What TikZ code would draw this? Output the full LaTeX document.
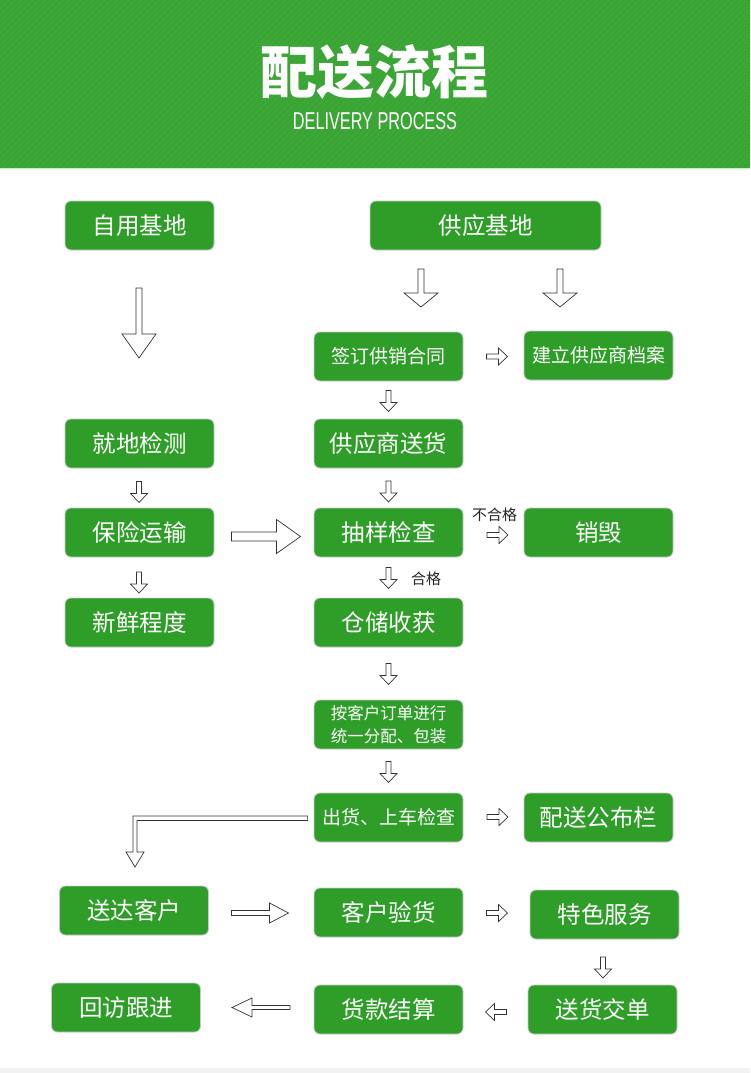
\documentclass[tikz,border=0pt]{standalone}
\usepackage{fontspec}
\setmainfont{Liberation Sans}
\newfontfamily\cjk{Noto Sans CJK SC}
\usetikzlibrary{calc}
\definecolor{hdrgreen}{HTML}{3DA838}
\definecolor{stripegreen}{HTML}{38A333}
\definecolor{boxgreen}{HTML}{2F9E29}
\definecolor{arrline}{HTML}{333333}
\tikzset{
  box/.style={draw=black!22, line width=0.8pt, fill=boxgreen, rounded corners=6pt,
    text=white, minimum width=149pt, minimum height=49pt, inner sep=0pt, align=center,
    font=\cjk\fontsize{23.5}{28}\selectfont},
  midtext/.style={font=\cjk\fontsize{19}{24}\selectfont},
  smalltext/.style={font=\cjk\fontsize{16.5}{23}\selectfont},
  lbl/.style={text=black!85, inner sep=0pt, font=\cjk\fontsize{15}{18}\selectfont},
  arr/.style={draw=arrline, line width=0.7pt, fill=white, line join=miter},
  pics/barr/.style n args={4}{code={
    \draw[arr] (-#1/2,-#2) -- (#1/2-#4,-#2) -- (#1/2-#4,-#3) -- (#1/2,0)
      -- (#1/2-#4,#3) -- (#1/2-#4,#2) -- (-#1/2,#2) -- cycle;}},
  pics/sarr/.style={code={
    \draw[arr] (-10.5,-2.5) -- (1.5,-2.5) -- (1.5,-8.5) -- (10.5,0)
      -- (1.5,8.5) -- (1.5,2.5) -- (-10.5,2.5) -- cycle;}},
}
\begin{document}
\begin{tikzpicture}[x=1pt,y=-1pt]
\useasboundingbox (0,0) rectangle (750,1073);
\fill[white] (0,0) rectangle (750,1073);
% header
\fill[hdrgreen] (0,0) rectangle (750,168);
\begin{scope}
\clip (0,0) rectangle (750,168);
\foreach \i in {-180,-174,...,760} \draw[stripegreen, line width=1.2pt] (\i,168) -- (\i+168,0);
\end{scope}
\draw[green!30!white, line width=1pt] (0,168.5) -- (750,168.5);
\fill[black!5] (0,1068) rectangle (750,1073);
\node[text=white, inner sep=0pt, font=\cjk\bfseries\fontsize{57}{60}\selectfont] (title) at (374,72) {配送流程};
\node[text=white, inner sep=0pt] (subtitle) at (375,121.5) {\resizebox{164pt}{17pt}{DELIVERY PROCESS}};

% boxes
\node[box] (zy) at (139.5,225.5) {自用基地};
\node[box, minimum width=231pt] (gy) at (485.5,225.5) {供应基地};
\node[box, midtext] (qd) at (388.5,356.5) {签订供销合同};
\node[box, midtext] (jl) at (598.5,355.5) {建立供应商档案};
\node[box] (jd) at (139.5,443.5) {就地检测};
\node[box] (gs) at (388.5,443.5) {供应商送货};
\node[box] (bx) at (139.5,532.5) {保险运输};
\node[box] (cy) at (388.5,532.5) {抽样检查};
\node[box] (xh) at (598.5,532.5) {销毁};
\node[box] (xx) at (139.5,622.5) {新鲜程度};
\node[box] (cc) at (388.5,622.5) {仓储收获};
\node[box, smalltext] (ak) at (388.5,724.5) {按客户订单进行\\统一分配、包装};
\node[box, midtext] (ch) at (388.5,817.5) {出货、上车检查};
\node[box] (pg) at (598.5,817.5) {配送公布栏};
\node[box] (sd) at (134,910.5) {送达客户};
\node[box] (kh) at (388.5,912.5) {客户验货};
\node[box] (ts) at (604.5,914.5) {特色服务};
\node[box] (sj) at (602.5,1009.5) {送货交单};
\node[box] (hk) at (388.5,1009.5) {货款结算};
\node[box] (hf) at (126,1007.5) {回访跟进};

% labels
\node[lbl] (bhg) at (494.5,514.5) {不合格};
\node[lbl] (hg) at (426,579) {合格};

% arrows
\pic[rotate=-90] at (139,323) {barr={70}{3}{17}{24}};
\pic[rotate=-90] at (421,288) {barr={38}{3}{17}{14}};
\pic[rotate=-90] at (560,288) {barr={38}{3}{17}{14}};
\pic at (497,356.5) {sarr};
\pic[rotate=-90] at (388.5,401) {sarr};
\pic[rotate=-90] at (139,492) {sarr};
\pic[rotate=-90] at (388.5,491.5) {sarr};
\pic at (266,536.5) {barr={69}{4.5}{17}{24}};
\pic at (497.5,535) {sarr};
\pic[rotate=-90] at (388.5,578) {sarr};
\pic[rotate=-90] at (139,582.5) {sarr};
\pic[rotate=-90] at (388.5,674) {sarr};
\pic[rotate=-90] at (388.5,772) {sarr};
\pic at (497.5,817) {sarr};
\pic at (260,913) {barr={57}{2.5}{10}{19}};
\pic at (497,913) {sarr};
\pic[rotate=-90] at (603,967.5) {sarr};
\pic[rotate=180] at (496,1012) {sarr};
\pic[rotate=180] at (261,1007.5) {barr={58}{2}{9.5}{20}};

% elbow arrow from ch to sd
\coordinate (es) at ($(ch.west)+(-6,0)$);
\draw[arr] ($(es)+(0,-1.5)$) -- (133,816) -- (133,852) -- (126,852) -- (135,867)
  -- (144,852) -- (137,852) -- (137,820.5) -- ($(es)+(0,3)$) -- cycle;
\end{tikzpicture}
\end{document}
